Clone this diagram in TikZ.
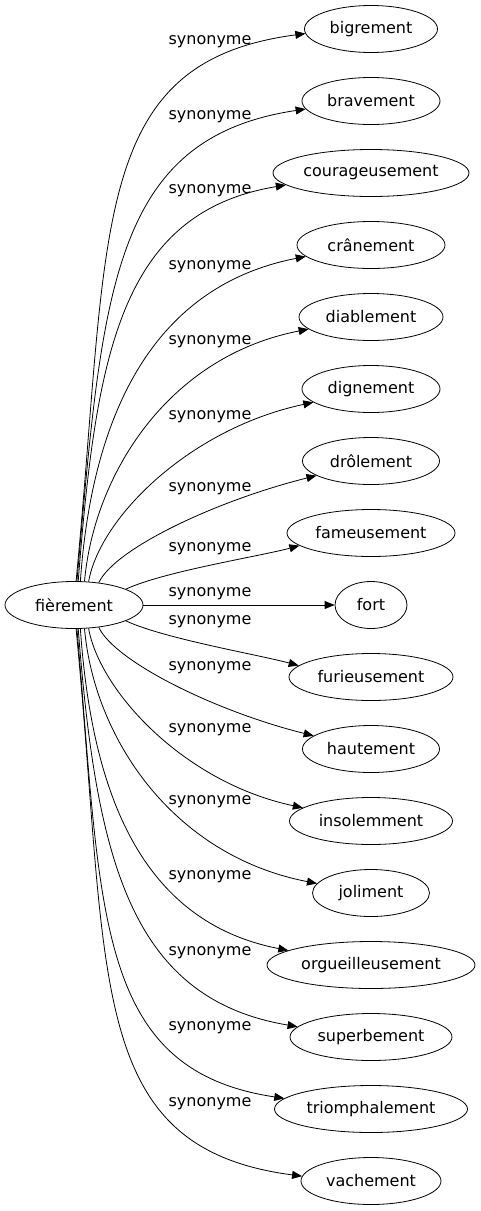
\documentclass[tikz,border=0pt]{standalone}
\usepackage{fontspec}
\setmainfont{DejaVu Sans}
\usetikzlibrary{shapes.geometric,arrows.meta}

\tikzset{
  mot/.style={draw, ellipse, inner sep=0pt, minimum height=47pt, line width=0.8pt,
    font=\fontsize{16}{19}\selectfont},
  syn/.style={inner sep=0pt, font=\fontsize{16}{19}\selectfont},
  lien/.style={-{Triangle[length=10pt,width=8pt]}, line width=0.8pt},
}

\begin{document}
\begin{tikzpicture}[x=1pt,y=1pt]
 \useasboundingbox (0,0) rectangle (480,-1211);
 \node[mot, minimum width=138pt] (fierement) at (74,-605) {fièrement};
 % synonymes, de haut en bas
 \foreach \j/\nom/\txt/\lw in {0/bigrement/bigrement/133, 1/bravement/bravement/138,
   2/courageusement/courageusement/196, 3/cranement/crânement/148,
   4/diablement/diablement/144, 5/dignement/dignement/138, 6/drolement/drôlement/137,
   7/fameusement/fameusement/168, 8/fort/fort/72, 9/furieusement/furieusement/164,
   10/hautement/hautement/137, 11/insolemment/insolemment/163, 12/joliment/joliment/117,
   13/orgueilleusement/orgueilleusement/208, 14/superbement/superbement/162,
   15/triomphalement/triomphalement/193, 16/vachement/vachement/140}
   \node[mot, minimum width=\lw pt] (\nom) at (371,-29-72*\j) {\txt};
 % liens courbes
 \foreach \nom/\ly/\sa/\oa/\ol/\ea/\ia/\il in {
   bigrement/42/85/84.5/1.52/184/187.5/0.95,
   bravement/117/83/85/1.42/187/188.5/0.96,
   courageusement/191/80/85.5/1.3/188/189.5/0.96,
   cranement/267/75/86/1.1/190/191/1.0,
   diablement/342/66/85/0.8/191/191/1.1,
   dignement/417/58/80/0.58/193/192/1.12,
   drolement/489/42/65/0.4/195/194/1.08,
   fameusement/549/17/25/0.6/190/195/0.6,
   furieusement/622/343/335/0.6/171/165/0.6,
   hautement/668/318/295/0.4/167/166/1.08,
   insolemment/730/302/280/0.58/169/168/1.12,
   joliment/802/294/275/0.8/170/169/1.1,
   orgueilleusement/877/285/274/1.1/170/169/1.0,
   superbement/953/280/274.5/1.3/172/170.5/0.96,
   triomphalement/1028/277/275/1.42/173/171.5/0.96,
   vachement/1104/275/275.5/1.52/176/172.5/0.95}
 {
   \draw[lien] (fierement.\sa) to[out=\oa, in=\ia, out looseness=\ol, in looseness=\il] (\nom.\ea);
   \node[syn] (l-\nom) at (210,-\ly) {synonyme};
 }
 \draw[lien] (fierement) -- (fort);
 \node[syn] (l-fort) at (210,-594) {synonyme};
\end{tikzpicture}
\end{document}
